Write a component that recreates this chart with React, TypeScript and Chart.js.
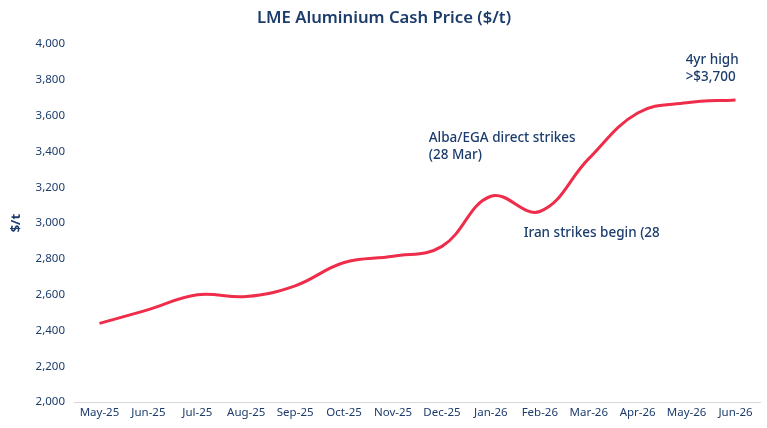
import React, { useEffect, useRef } from "react";
import { Chart, registerables } from "chart.js";

Chart.register(...registerables);

const categories = ["May-25", "Jun-25", "Jul-25", "Aug-25", "Sep-25", "Oct-25", "Nov-25", "Dec-25", "Jan-26", "Feb-26", "Mar-26", "Apr-26", "May-26", "Jun-26"];
const prices = [2440, 2517, 2600, 2590, 2650, 2780, 2815, 2870, 3150, 3065, 3360, 3615, 3672, 3688];
const yTicks = [2000, 2200, 2400, 2600, 2800, 3000, 3200, 3400, 3600, 3800, 4000];

// annotation anchors in data space: [category index, value, lines]
const annotations: { x: number; y: number; lines: string[] }[] = [
  { x: 6.73, y: 3472, lines: ["Alba/EGA direct strikes", "(28 Mar)"] },
  { x: 8.67, y: 2944, lines: ["Iran strikes begin (28"] },
  { x: 11.98, y: 3912, lines: ["4yr high", ">$3,700"] },
];

const NAVY = "#1c3c6c";
const RED = "#ef2d4b";
const FONT = "'Noto Sans', sans-serif";

const annotationPlugin = {
  id: "textNotes",
  afterDatasetsDraw(chart: any) {
    const { ctx, scales } = chart;
    ctx.save();
    ctx.fillStyle = NAVY;
    ctx.font = `500 13.5px ${FONT}`;
    ctx.textAlign = "left";
    ctx.textBaseline = "middle";
    for (const a of annotations) {
      const px = scales.x.getPixelForValue(a.x);
      const py = scales.y.getPixelForValue(a.y);
      a.lines.forEach((l, i) => ctx.fillText(l, px, py + i * 17));
    }
    ctx.restore();
  },
};

export default function App() {
  const ref = useRef<HTMLCanvasElement>(null);
  useEffect(() => {
    document.body.style.margin = "0";
    const chart = new Chart(ref.current!, {
      type: "line",
      data: {
        labels: categories,
        datasets: [
          {
            data: prices,
            borderColor: RED,
            borderWidth: 3,
            pointRadius: 0,
            tension: 0.4,
            fill: false,
          },
        ],
      },
      options: {
        animation: false,
        responsive: false,
        maintainAspectRatio: false,
        layout: { padding: { left: 8, right: 7, top: 0, bottom: 4 } },
        plugins: {
          legend: { display: false },
          tooltip: { enabled: false },
          title: {
            display: true,
            text: "LME Aluminium Cash Price ($/t)",
            color: NAVY,
            font: { family: FONT, size: 16.7, weight: "600" },
            padding: { top: 8, bottom: 16 },
          },
        },
        scales: {
          x: {
            offset: true,
            grid: { display: false, drawTicks: false },
            border: { display: true, color: "#d9d9d9", width: 1 },
            ticks: { color: NAVY, font: { family: FONT, size: 11.5 }, padding: 4, maxRotation: 0, autoSkip: false },
          },
          y: {
            min: 2000,
            max: 4000,
            afterBuildTicks: (axis: any) => {
              axis.ticks = yTicks.map((v) => ({ value: v }));
            },
            grid: { display: false, drawTicks: false },
            border: { display: false },
            ticks: { color: NAVY, font: { family: FONT, size: 11.5 }, padding: 10 },
            title: {
              display: true,
              text: "$/t",
              color: NAVY,
              font: { family: FONT, size: 13, weight: "bold" },
              padding: { top: 0, bottom: 2 },
            },
          },
        },
      },
      plugins: [annotationPlugin],
    });
    return () => chart.destroy();
  }, []);
  return (
    <div style={{ width: 767, height: 428 }}>
      <canvas ref={ref} width={767} height={428} style={{ width: 767, height: 428 }} />
    </div>
  );
}
